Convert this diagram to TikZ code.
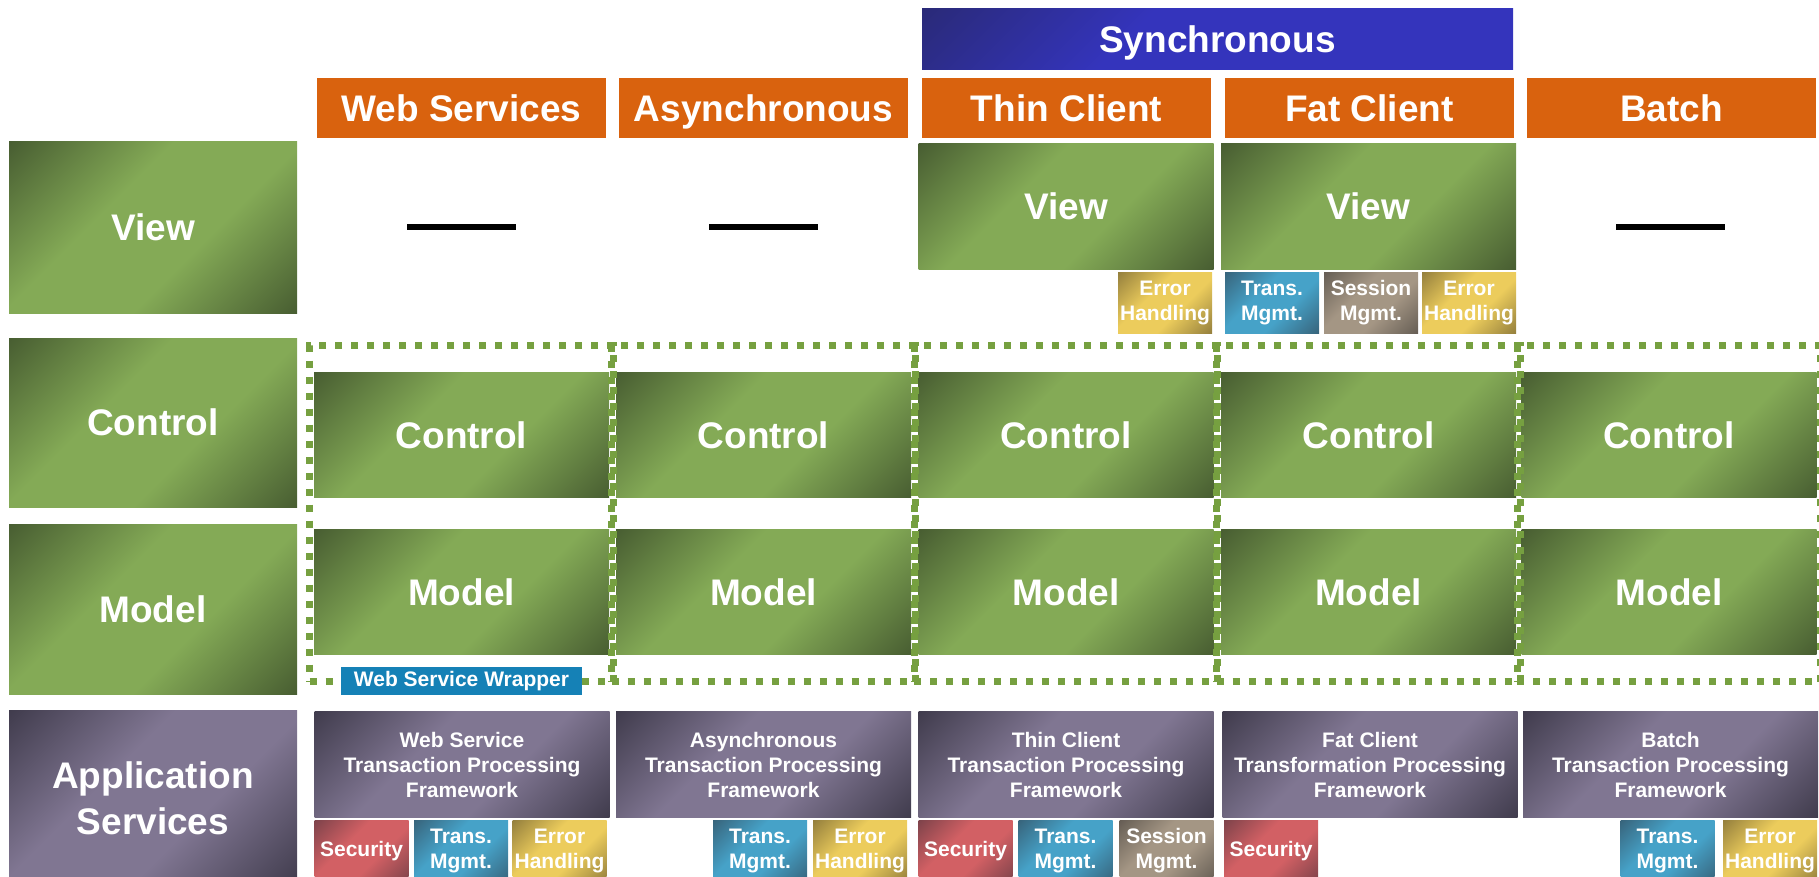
\documentclass[tikz,border=0pt]{standalone}
\usepackage{fontspec}
\setmainfont{Liberation Sans}
\usetikzlibrary{fit}

\definecolor{grnlight}{RGB}{132,170,86}
\definecolor{grndark}{RGB}{66,86,46}
\definecolor{purlight}{RGB}{128,118,146}
\definecolor{purdark}{RGB}{58,54,70}
\definecolor{synlight}{RGB}{52,52,188}
\definecolor{syndark}{RGB}{40,40,108}
\definecolor{hdorange}{RGB}{217,98,14}
\definecolor{seclight}{RGB}{210,96,100}
\definecolor{secdark}{RGB}{118,64,72}
\definecolor{trnlight}{RGB}{70,162,200}
\definecolor{trndark}{RGB}{54,94,116}
\definecolor{seslight}{RGB}{164,150,132}
\definecolor{sesdark}{RGB}{96,88,80}
\definecolor{errlight}{RGB}{236,204,92}
\definecolor{errdark}{RGB}{140,120,58}
\definecolor{wrapblue}{RGB}{21,129,182}
\definecolor{wrapgreen}{RGB}{118,160,64}

\colorlet{tdark}{black}
\colorlet{tlight}{white}
\pgfdeclareverticalshading[tdark,tlight]{tile}{100bp}{color(0bp)=(tdark); color(12bp)=(tdark); color(40bp)=(tlight); color(60bp)=(tlight); color(88bp)=(tdark); color(100bp)=(tdark)}
\pgfdeclareverticalshading[tdark,tlight]{halftile}{100bp}{color(0bp)=(tlight); color(60bp)=(tlight); color(90bp)=(tdark); color(100bp)=(tdark)}

\tikzset{shaded/.style={shade,shading=tile,shading angle=45,/utils/exec={\colorlet{tdark}{#1dark}\colorlet{tlight}{#1light}}}}
\tikzstyle{every node}=[inner sep=0pt,text=white,align=center]
\tikzstyle{bigtext}=[font=\fontsize{18.5}{23}\selectfont\bfseries]
\tikzstyle{smalltext}=[font=\fontsize{10.5}{12.5}\selectfont\bfseries]
\tikzstyle{oneline}=[text height=13.2pt,text depth=0pt]
\tikzstyle{syncbox}=[bigtext,oneline,shaded=syn,shading=halftile,minimum width=295.5pt,minimum height=30.5pt]
\tikzstyle{headbox}=[bigtext,oneline,fill=hdorange,minimum width=144.5pt,minimum height=30pt]
\tikzstyle{lefttile}=[bigtext,shaded=grn,minimum width=144pt]
\tikzstyle{colbox}=[bigtext,oneline,shaded=grn,minimum width=147.5pt,minimum height=62.5pt]
\tikzstyle{fwbox}=[smalltext,shaded=pur,minimum width=147.5pt,minimum height=53pt]
\tikzstyle{minibox}=[smalltext,minimum width=47pt,minimum height=30.5pt]
\tikzstyle{nodash}=[fill=black,minimum width=54.5pt,minimum height=3pt]
\tikzstyle{wrapbox}=[draw=wrapgreen,line width=3.5pt,dash pattern=on 3.5pt off 4.5pt,inner xsep=2pt,inner ysep=13.5pt]
\tikzstyle{wraplabel}=[smalltext,fill=wrapblue,minimum width=120.5pt,minimum height=14pt]

\begin{document}
\begin{tikzpicture}[x=0.5pt,y=-0.5pt]
\useasboundingbox (0,0) rectangle (1819,877);

% column heads
\node[syncbox] (sync) at (1217.5,39.5) {Synchronous};
\node[headbox] (hWeb) at (461.5,108.5) {Web Services};
\node[headbox] (hAsync) at (763.5,108.5) {Asynchronous};
\node[headbox] (hThin) at (1066.5,108.5) {Thin Client};
\node[headbox] (hFat) at (1369.5,108.5) {Fat Client};
\node[headbox] (hBatch) at (1671.5,108.5) {Batch};

% layers
\node[lefttile,oneline,minimum height=85.5pt] (lView) at (153,227.5) {View};
\node[lefttile,oneline,minimum height=84.5pt] (lCtl) at (153,422.5) {Control};
\node[lefttile,oneline,minimum height=85pt] (lMdl) at (153,609) {Model};
\node[lefttile,shaded=pur,minimum height=88pt] (lApp) at (153,798) {Application\\Services};

% view row
\node[nodash] (vWeb) at (461,227) {};
\node[nodash] (vAsync) at (763,227) {};
\node[colbox] (vThin) at (1066,206.5) {View};
\node[colbox] (vFat) at (1368.5,206.5) {View};
\node[nodash] (vBatch) at (1670,227) {};
\node[minibox,shaded=err] (vThinErr) at (1165,302.5) {Error\\Handling};
\node[minibox,shaded=trn] (vFatTrn) at (1272,302.5) {Trans.\\Mgmt.};
\node[minibox,shaded=ses] (vFatSes) at (1371,302.5) {Session\\Mgmt.};
\node[minibox,shaded=err] (vFatErr) at (1469,302.5) {Error\\Handling};

% control and model
\node[colbox] (cWeb) at (461.5,435) {Control};
\node[colbox] (cAsync) at (763.5,435) {Control};
\node[colbox] (cThin) at (1066,435) {Control};
\node[colbox] (cFat) at (1368.5,435) {Control};
\node[colbox] (cBatch) at (1669,435) {Control};
\node[colbox] (mWeb) at (461.5,592) {Model};
\node[colbox] (mAsync) at (763.5,592) {Model};
\node[colbox] (mThin) at (1066,592) {Model};
\node[colbox] (mFat) at (1368.5,592) {Model};
\node[colbox] (mBatch) at (1669,592) {Model};

\node[wrapbox,fit=(cWeb)(mWeb)] (wWeb) {};
\node[wrapbox,fit=(cAsync)(mAsync)] (wAsync) {};
\node[wrapbox,fit=(cThin)(mThin)] (wThin) {};
\node[wrapbox,fit=(cFat)(mFat)] (wFat) {};
\node[wrapbox,fit=(cBatch)(mBatch)] (wBatch) {};
\node[wraplabel] (wsw) at (461.5,681) {Web Service Wrapper};

% application services
\node[fwbox] (fWeb) at (462,764.5) {Web Service\\Transaction Processing\\Framework};
\node[fwbox] (fAsync) at (763.5,764.5) {Asynchronous\\Transaction Processing\\Framework};
\node[fwbox] (fThin) at (1066,764.5) {Thin Client\\Transaction Processing\\Framework};
\node[fwbox] (fFat) at (1370,764.5) {Fat Client\\Transformation Processing\\Framework};
\node[fwbox] (fBatch) at (1670.5,764.5) {Batch\\Transaction Processing\\Framework};

\node[minibox,shaded=sec] (sWebSec) at (361.5,851) {Security};
\node[minibox,shaded=trn] (sWebTrn) at (461,851) {Trans.\\Mgmt.};
\node[minibox,shaded=err] (sWebErr) at (559.5,851) {Error\\Handling};
\node[minibox,shaded=trn] (sAsyncTrn) at (760,851) {Trans.\\Mgmt.};
\node[minibox,shaded=err] (sAsyncErr) at (860,851) {Error\\Handling};
\node[minibox,shaded=sec] (sThinSec) at (965.5,851) {Security};
\node[minibox,shaded=trn] (sThinTrn) at (1065.5,851) {Trans.\\Mgmt.};
\node[minibox,shaded=ses] (sThinSes) at (1166.5,851) {Session\\Mgmt.};
\node[minibox,shaded=sec] (sFatSec) at (1271,851) {Security};
\node[minibox,shaded=trn] (sBatchTrn) at (1667.5,851) {Trans.\\Mgmt.};
\node[minibox,shaded=err] (sBatchErr) at (1770,851) {Error\\Handling};
\end{tikzpicture}
\end{document}
